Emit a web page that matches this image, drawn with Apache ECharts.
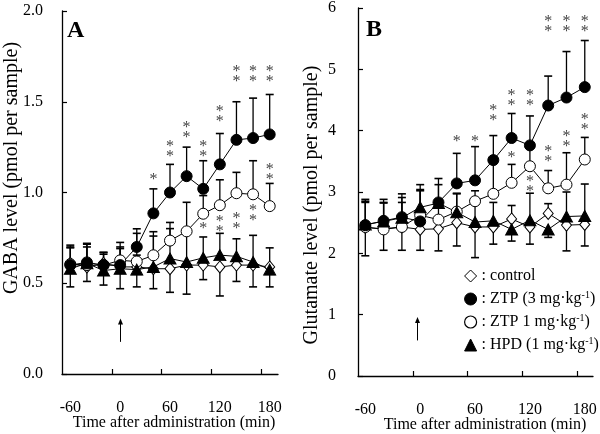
<!DOCTYPE html>
<html><head><meta charset="utf-8">
<script src="https://cdn.jsdelivr.net/npm/echarts@6/dist/echarts.min.js"></script>
<style>html,body{margin:0;padding:0;background:#fff}#c{width:600px;height:434px}</style>
</head><body><div id="c"></div>
<script>
// time points (min)
const times = [-60,-40,-20,0,20,40,60,80,100,120,140,160,180];
// Panel A: GABA level (pmol per sample)
const gabaControl = [0.61,0.59,0.61,0.59,0.59,0.58,0.58,0.60,0.60,0.59,0.60,0.60,0.59];
const gabaZtp3    = [0.60,0.615,0.60,0.60,0.70,0.885,1.00,1.09,1.02,1.155,1.29,1.30,1.32];
const gabaZtp1    = [0.605,0.60,0.60,0.626,0.62,0.654,0.735,0.786,0.883,0.93,0.996,0.99,0.925];
const gabaHpd     = [0.58,0.61,0.57,0.58,0.575,0.59,0.636,0.617,0.64,0.655,0.648,0.617,0.575];
// error bars (signed: + drawn upward, - drawn downward)
const gabaControlErr = [-0.13,-0.08,-0.12,-0.12,-0.11,-0.11,-0.13,-0.16,-0.08,-0.16,-0.09,-0.12,-0.11];
const gabaZtp3Err    = [0.10,0.10,0.07,0.10,0.10,0.135,0.155,0.16,0.155,0.17,0.21,0.22,0.22];
const gabaZtp1Err    = [0.09,0.10,0.06,0.065,0.155,0.13,0.10,0.16,0.10,0.14,0.115,0.185,0.125];
const gabaHpdErr     = [0.13,0.11,0.10,0.145,0.08,0.17,0.165,0.16,0.115,0.12,0.097,0.147,0.12];
// Panel B: Glutamate level (pmol per sample)
const gluControl = [2.42,2.40,2.43,2.39,2.40,2.50,2.43,2.43,2.56,2.43,2.65,2.46,2.47];
const gluZtp3    = [2.46,2.53,2.59,2.52,2.83,3.14,3.19,3.52,3.88,3.76,4.41,4.54,4.71];
const gluZtp1    = [2.43,2.39,2.43,2.62,2.55,2.68,2.85,2.97,3.15,3.42,3.06,3.12,3.53];
const gluHpd     = [2.47,2.52,2.58,2.75,2.82,2.67,2.51,2.53,2.39,2.54,2.39,2.60,2.61];
const gluControlErr = [-0.46,-0.35,-0.38,-0.34,-0.36,-0.38,-0.50,-0.28,0.22,-0.28,0.16,-0.42,-0.35];
const gluZtp3Err    = [0.42,0.35,0.38,0.50,0.39,0.49,0.55,0.40,0.40,0.48,0.48,0.75,0.76];
const gluZtp1Err    = [0.42,0.44,0.48,0.42,0.30,0.30,0.17,0.55,0.30,0.35,0.29,0.52,0.36];
const gluHpdErr     = [0.36,0.30,0.25,0.37,0.30,0.30,0.32,0.30,-0.19,0.44,-0.13,0.40,0.52];
// significance marks: [time, level, number of asterisks]
const starsA = [[40,1.085,1],[60,1.24,2],[80,1.345,2],[100,1.24,2],[120,1.435,2],[140,1.655,2],[160,1.655,2],[180,1.655,2],
                [100,0.815,1],[120,0.825,2],[140,0.845,2],[160,0.89,2],[180,1.115,2]];
const starsB = [[40,3.87,1],[60,3.87,1],[80,4.29,2],[100,4.54,2],[120,4.54,2],[140,5.74,2],[160,5.74,2],[180,5.74,2],
                [100,3.61,1],[120,3.13,2],[140,3.62,2],[160,3.87,2],[180,4.14,2]];
// administration arrows: [time, from level, to level]
const arrowA = [[0, 0.177, 0.306]];
const arrowB = [[-4, 0.58, 0.96]];
// axes
const xTickLabels = [-60,0,60,120,180];
const xTicksA = [-10,50,110,170];
const xTicksB = [-8,52,112,172];
const seriesNames = ['control','ZTP (3 mg·kg-1)','ZTP 1 mg·kg-1)','HPD (1 mg·kg-1)'];
const legendText = {
  'control': '{n|: control}',
  'ZTP (3 mg·kg-1)': '{n|: ZTP (3 mg·kg}{s|-1}{n|)}',
  'ZTP 1 mg·kg-1)': '{n|: ZTP 1 mg·kg}{s|-1}{n|)}',
  'HPD (1 mg·kg-1)': '{n|: HPD (1 mg·kg}{s|-1}{n|)}'
};

const FONT = 'Liberation Serif';
const styles = [
  {symbol:'diamond', symbolSize:[10,12], itemStyle:{color:'#fff',borderColor:'#000',borderWidth:1}},
  {symbol:'circle', symbolSize:11, itemStyle:{color:'#000',borderColor:'#000',borderWidth:1}},
  {symbol:'circle', symbolSize:11, itemStyle:{color:'#fff',borderColor:'#000',borderWidth:1}},
  {symbol:'triangle', symbolSize:[12,11], itemStyle:{color:'#000',borderColor:'#000',borderWidth:1}}
];
const drawOrder = [0,2,1,3];

function zip(v, e){ return times.map((t,i)=>[t, v[i], e ? e[i] : 0]); }

function errRender(params, api){
  const t=api.value(0), m=api.value(1), e=api.value(2);
  const p0=api.coord([t,m]), p1=api.coord([t,m+e]);
  const w=4;
  return {type:'group', children:[
    {type:'line', shape:{x1:p0[0],y1:p0[1],x2:p1[0],y2:p1[1]}, style:{stroke:'#000', lineWidth:1.3}},
    {type:'line', shape:{x1:p1[0]-w,y1:p1[1],x2:p1[0]+w,y2:p1[1]}, style:{stroke:'#000', lineWidth:1.6}}
  ]};
}
function starRender(params, api){
  const p=api.coord([api.value(0), api.value(1)]);
  const n=api.value(2);
  return {type:'text', x:p[0], y:p[1]+3, style:{text: n===2?'*\n*':'*', fontSize:16, fontFamily:FONT,
    fill:'#444', align:'center', verticalAlign:'middle', lineHeight:10}};
}
function arrowRender(params, api){
  const t=api.value(0);
  const a=api.coord([t, api.value(1)]), b=api.coord([t, api.value(2)]);
  const x=Math.round(a[0])+0.5;
  return {type:'group', children:[
    {type:'line', shape:{x1:x,y1:a[1],x2:x,y2:b[1]+4}, style:{stroke:'#000', lineWidth:1}},
    {type:'polygon', shape:{points:[[x,b[1]],[x-2.5,b[1]+6],[x+2.5,b[1]+6]]}, style:{fill:'#000'}}
  ]};
}

const panels = [
  {vals:[gabaControl,gabaZtp3,gabaZtp1,gabaHpd], errs:[gabaControlErr,gabaZtp3Err,gabaZtp1Err,gabaHpdErr], stars:starsA, arrow:arrowA},
  {vals:[gluControl,gluZtp3,gluZtp1,gluHpd], errs:[gluControlErr,gluZtp3Err,gluZtp1Err,gluHpdErr], stars:starsB, arrow:arrowB}
];

const series = [];
panels.forEach((p, pi)=>{
  drawOrder.forEach(k=>{
    series.push({type:'custom', name:seriesNames[k], xAxisIndex:pi, yAxisIndex:pi, z:1,
      renderItem:errRender, encode:{x:0,y:1}, data:zip(p.vals[k], p.errs[k]), silent:true});
  });
  drawOrder.forEach(k=>{
    series.push({type:'line', name:seriesNames[k], xAxisIndex:pi, yAxisIndex:pi, z:2,
      data: zip(p.vals[k]).map(d=>[d[0],d[1]]),
      symbol: styles[k].symbol, symbolSize: styles[k].symbolSize, itemStyle: styles[k].itemStyle,
      lineStyle:{color:'#000', width:1}, showSymbol:true, animation:false, silent:true});
  });
  series.push({type:'custom', xAxisIndex:pi, yAxisIndex:pi, z:3, renderItem:starRender,
    encode:{x:0,y:1}, data:p.stars, silent:true});
  series.push({type:'custom', xAxisIndex:pi, yAxisIndex:pi, z:3, renderItem:arrowRender,
    encode:{x:0,y:[1,2]}, data:p.arrow, silent:true});
});

const axisLine = {show:true, onZero:false, lineStyle:{color:'#000', width:1.3}};
const labelStyle = {fontFamily:FONT, fontSize:16, color:'#000'};

const option = {
  animation:false,
  backgroundColor:'#fff',
  grid:[
    {left:62, top:11, width:216, height:363},
    {left:358, top:6, width:235, height:370}
  ],
  xAxis:[
    {type:'value', gridIndex:0, min:-70, max:190, splitLine:{show:false}, axisLine,
     axisTick:{inside:true, length:5, lineStyle:{color:'#000', width:1.2}, customValues:xTicksA},
     axisLabel:{...labelStyle, margin:26, customValues:xTickLabels}},
    {type:'value', gridIndex:1, min:-68, max:189, splitLine:{show:false}, axisLine,
     axisTick:{inside:true, length:5, lineStyle:{color:'#000', width:1.2}, customValues:xTicksB},
     axisLabel:{...labelStyle, margin:26, customValues:xTickLabels}}
  ],
  yAxis:[
    {type:'value', gridIndex:0, min:0, max:2, interval:0.5, splitLine:{show:false}, axisLine,
     axisTick:{show:true, inside:true, length:5, lineStyle:{color:'#000', width:1.2}},
     axisLabel:{...labelStyle, margin:19, formatter:v=>v.toFixed(1)}},
    {type:'value', gridIndex:1, min:0, max:6, interval:1, splitLine:{show:false}, axisLine,
     axisTick:{show:true, inside:true, length:5, lineStyle:{color:'#000', width:1.2}},
     axisLabel:{...labelStyle, margin:22}}
  ],
  legend:{
    orient:'vertical', left:459, top:263, itemWidth:12, itemHeight:12, itemGap:6.5,
    selectedMode:false,
    data:[
      {name:seriesNames[0], icon:'diamond', itemStyle:{color:'#fff',borderColor:'#000',borderWidth:1}},
      {name:seriesNames[1], icon:'circle', itemStyle:{color:'#000',borderColor:'#000',borderWidth:1}},
      {name:seriesNames[2], icon:'circle', itemStyle:{color:'#fff',borderColor:'#000',borderWidth:1.2}},
      {name:seriesNames[3], icon:'triangle', itemStyle:{color:'#000',borderColor:'#000',borderWidth:1}}
    ],
    formatter: name => legendText[name],
    textStyle:{fontFamily:FONT, fontSize:16, color:'#000',
      rich:{n:{fontFamily:FONT, fontSize:16, color:'#000', lineHeight:17},
            s:{fontFamily:FONT, fontSize:10, color:'#000', verticalAlign:'top', lineHeight:17}}}
  },
  graphic:[
    {type:'text', x:67, y:31, style:{text:'A', fontFamily:FONT, fontSize:24, fontWeight:'bold', fill:'#000', verticalAlign:'middle'}},
    {type:'text', x:366, y:30, style:{text:'B', fontFamily:FONT, fontSize:24, fontWeight:'bold', fill:'#000', verticalAlign:'middle'}},
    {type:'text', x:12, y:168, rotation:Math.PI/2, style:{text:'GABA level (pmol per sample)', fontFamily:FONT, fontSize:20, fill:'#000', align:'center', verticalAlign:'middle'}},
    {type:'text', x:312, y:205, rotation:Math.PI/2, style:{text:'Glutamate level (pmol per sample)', fontFamily:FONT, fontSize:20, fill:'#000', align:'center', verticalAlign:'middle'}},
    {type:'text', x:174, y:423, style:{text:'Time after administration (min)', fontFamily:FONT, fontSize:16, fill:'#000', align:'center', verticalAlign:'middle'}},
    {type:'text', x:485, y:425, style:{text:'Time after administration (min)', fontFamily:FONT, fontSize:16, fill:'#000', align:'center', verticalAlign:'middle'}}
  ],
  series
};
const chart = echarts.init(document.getElementById('c'), null, {renderer:'canvas'});
chart.setOption(option);
</script></body></html>
